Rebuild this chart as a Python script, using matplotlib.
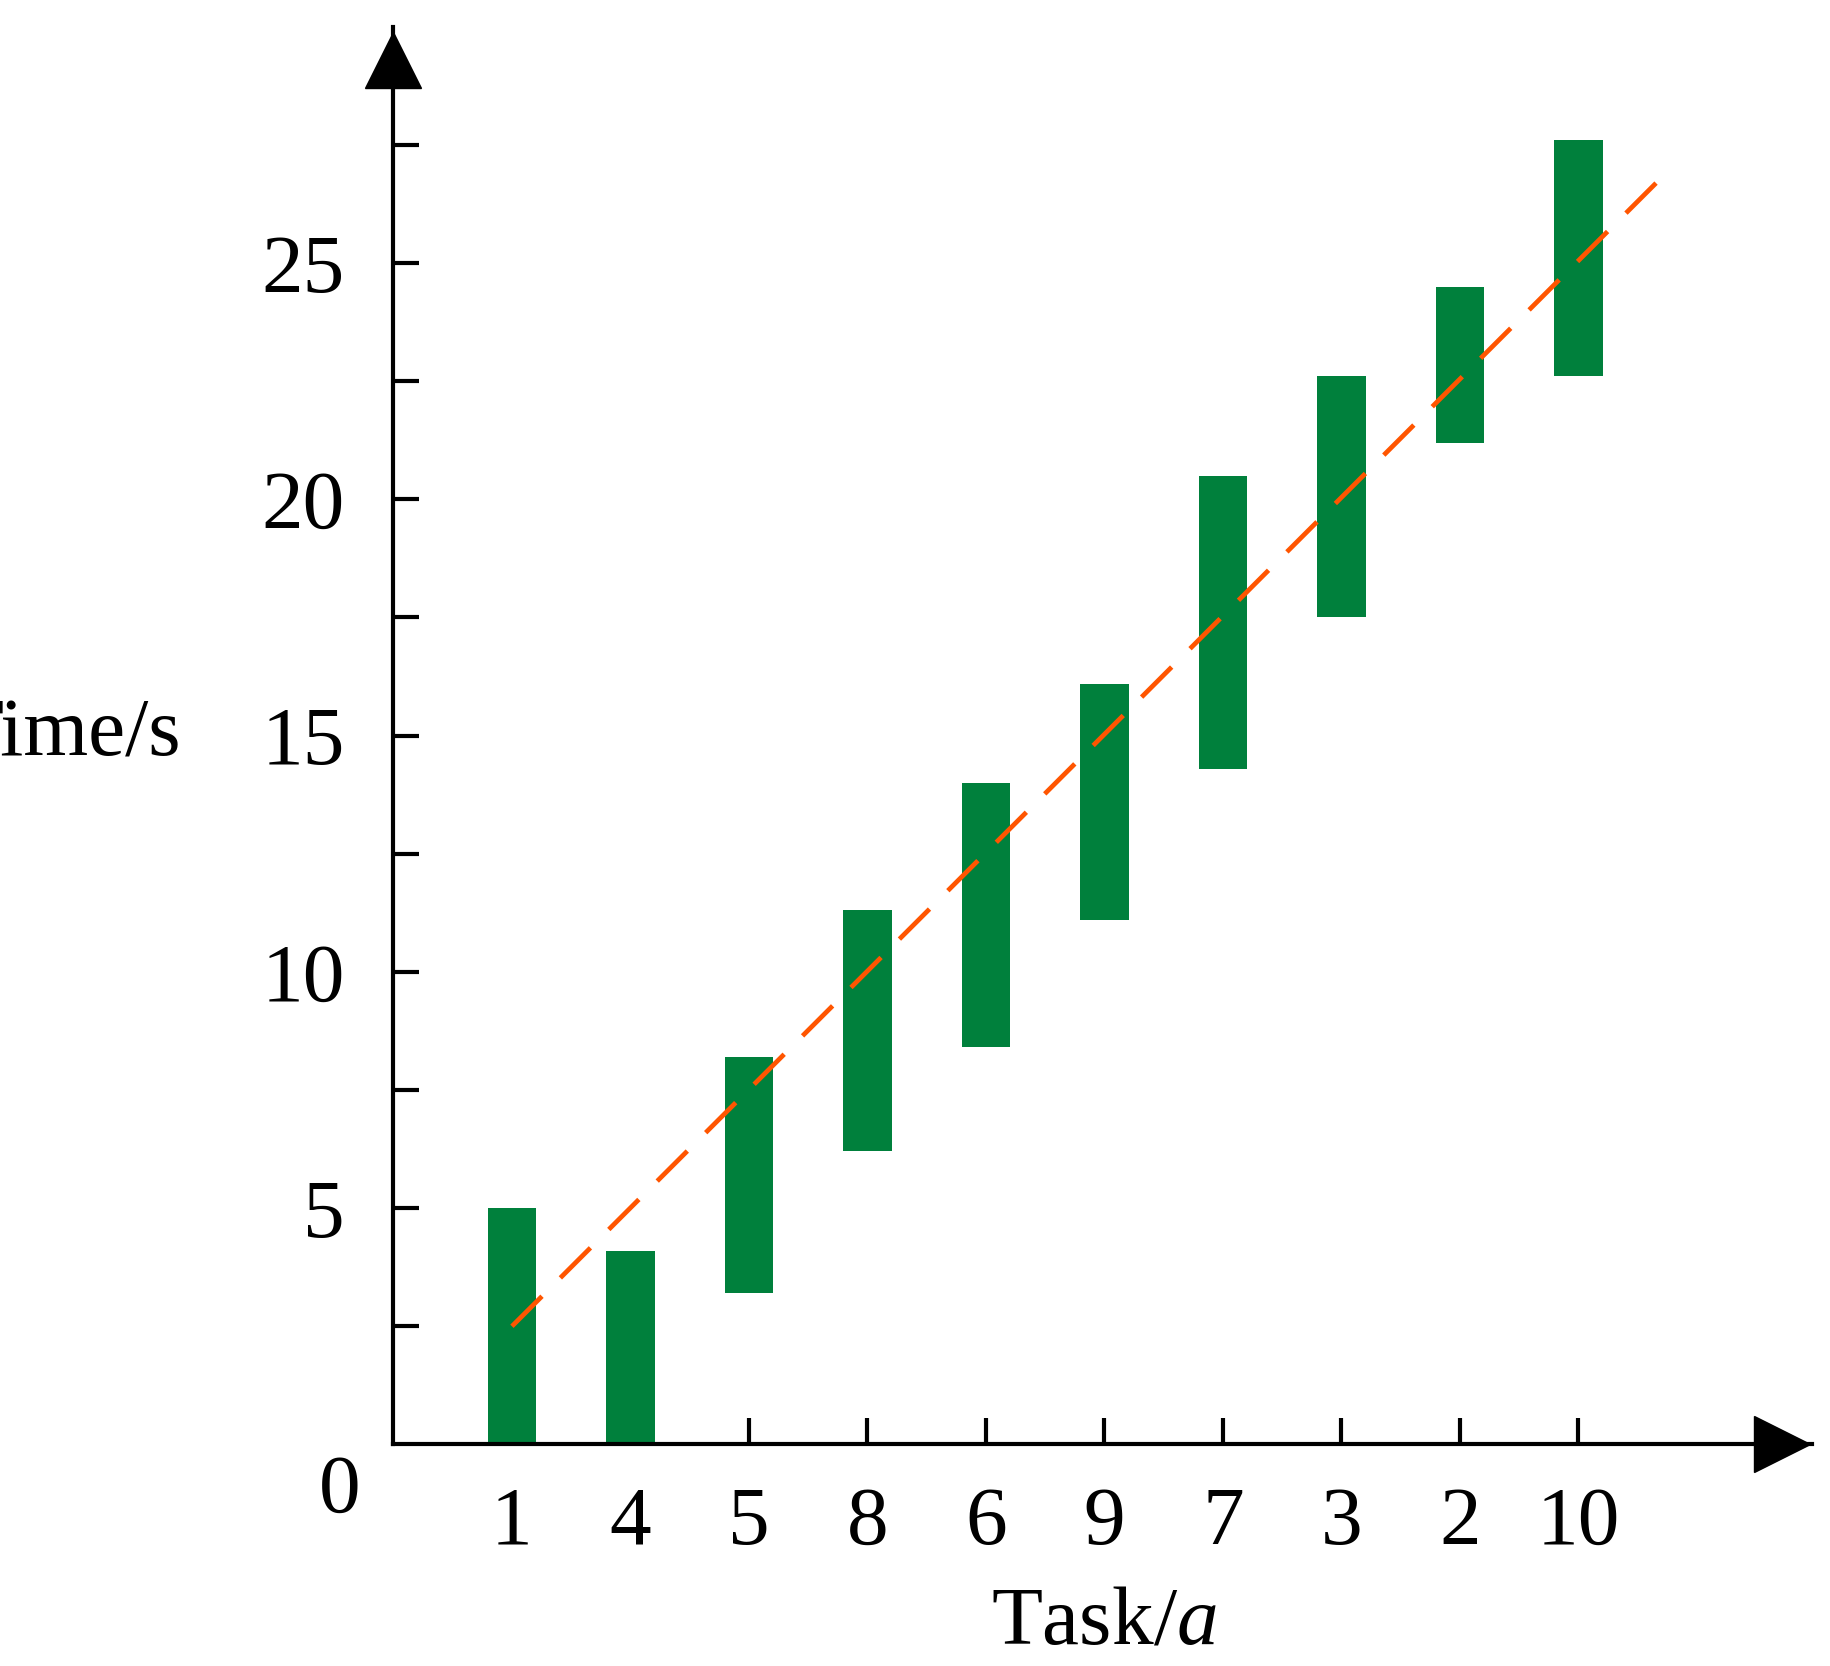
import matplotlib
matplotlib.use("Agg")
import matplotlib.pyplot as plt

plt.rcParams['font.family'] = ['Liberation Serif', 'DejaVu Serif']
plt.rcParams['mathtext.fontset'] = 'custom'
plt.rcParams['mathtext.it'] = 'Liberation Serif:italic'
plt.rcParams['mathtext.rm'] = 'Liberation Serif'

tasks = ['1', '4', '5', '8', '6', '9', '7', '3', '2', '10']
bar_low = [0, 0, 3.2, 6.2, 8.4, 11.1, 14.3, 17.5, 21.2, 22.6]
bar_high = [5.0, 4.1, 8.2, 11.3, 14.0, 16.1, 20.5, 22.6, 24.5, 27.6]
trend_x = [0, 9.7]
trend_y = [2.5, 26.8]

fig = plt.figure(figsize=(18.3, 16.66), dpi=100)
ax = fig.add_axes([0.215, 0.133, 0.775, 0.851])
pos = list(range(len(tasks)))
ax.bar(pos, [h - l for h, l in zip(bar_high, bar_low)], bottom=bar_low,
       width=0.41, color='#00803C', zorder=2)
ax.plot(trend_x, trend_y, color='#FF5500', lw=3.4, dashes=(9, 5.5), zorder=3)

ax.set_xlim(-1, 10.97)
ax.set_ylim(0, 30)
for s in ['top', 'right']:
    ax.spines[s].set_visible(False)
for s in ['left', 'bottom']:
    ax.spines[s].set_linewidth(3)
ax.set_xticks(pos)
ax.set_xticklabels(tasks, fontsize=60)
ax.set_yticks([2.5 * i for i in range(1, 12)])
ax.set_yticklabels(['' if i % 2 else str(int(2.5 * i)) for i in range(1, 12)], fontsize=60)
ax.tick_params(axis='both', direction='in', length=19, width=3, pad=30)
ax.tick_params(axis='y', pad=35)

ax.plot(10.72, 0, marker='>', ms=40, color='black', clip_on=False)
ax.plot(-1, 29.3, marker='^', ms=40, color='black', clip_on=False)
ax.text(-1.45, -1.0, '0', fontsize=60, ha='center', va='center')
ax.text(-0.15, 15, 'Time/s', fontsize=60, ha='right', va='center',
        transform=ax.get_yaxis_transform())
ax.text(5.0, -3.8, 'Task/$a$', fontsize=60, ha='center', va='center')

fig.savefig('out.png')
